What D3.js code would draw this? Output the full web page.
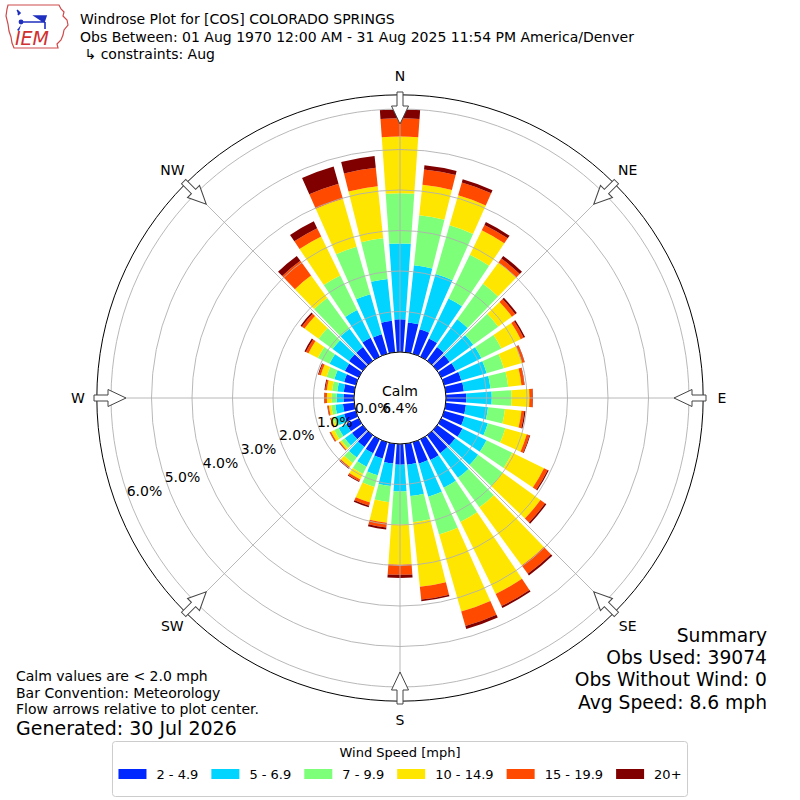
<!DOCTYPE html>
<html>
<head>
<meta charset="utf-8">
<style>
  body { margin: 0; background: #fff; }
  text { font-family: "DejaVu Sans", sans-serif; fill: #000; }
</style>
</head>
<body>
<svg id="chart" width="800" height="800"></svg>
<script src="https://cdn.jsdelivr.net/npm/d3@7"></script>
<script>
// direction the wind blows from, degrees
const directions = [0,10,20,30,40,50,60,70,80,90,100,110,120,130,140,150,160,170,
                    180,190,200,210,220,230,240,250,260,270,280,290,300,310,320,330,340,350];
const speedBins = ["2 - 4.9", "5 - 6.9", "7 - 9.9", "10 - 14.9", "15 - 19.9", "20+"];
const binColors = ["#0028ff", "#00d4ff", "#7dff7a", "#ffe600", "#ff4a00", "#800000"];

// percent of observations per direction, one array per speed bin
const pct2to5   = [0.81,0.74,0.63,0.50,0.42,0.38,0.40,0.44,0.45,0.50,0.50,0.52,0.58,0.55,0.55,0.57,0.55,0.52,
                   0.51,0.49,0.42,0.38,0.36,0.33,0.33,0.30,0.28,0.26,0.26,0.30,0.38,0.42,0.42,0.52,0.50,0.78];
const pct5to7   = [1.87,1.42,1.42,1.10,0.85,0.72,0.70,0.65,0.66,0.63,0.55,0.60,0.66,0.70,0.75,0.76,0.85,0.78,
                   0.66,0.56,0.43,0.37,0.32,0.22,0.22,0.20,0.19,0.17,0.16,0.25,0.42,0.50,0.56,0.76,1.03,1.04];
const pct7to10  = [1.24,1.24,1.25,1.20,1.08,0.76,0.55,0.44,0.44,0.49,0.42,0.45,0.71,0.75,0.90,0.94,0.97,0.65,
                   0.82,0.40,0.30,0.20,0.17,0.10,0.12,0.08,0.10,0.12,0.13,0.20,0.32,0.43,0.94,0.95,1.22,1.01];
const pct10to15 = [1.40,0.76,0.77,0.67,0.65,0.42,0.53,0.47,0.33,0.44,0.41,0.55,0.87,1.15,1.78,1.98,1.98,1.60,
                   0.99,0.51,0.40,0.15,0.12,0.05,0.09,0.05,0.06,0.12,0.13,0.15,0.26,0.43,0.68,1.07,1.23,1.29];
const pct15to20 = [0.45,0.38,0.33,0.15,0.12,0.10,0.08,0.06,0.07,0.08,0.07,0.07,0.10,0.14,0.25,0.33,0.37,0.32,
                   0.25,0.12,0.08,0.05,0.03,0.02,0.03,0.02,0.03,0.06,0.04,0.05,0.07,0.08,0.45,0.23,0.39,0.46];
const pct20up   = [0.22,0.10,0.08,0.08,0.08,0.05,0.04,0.01,0.01,0.01,0.03,0.02,0.03,0.04,0.05,0.05,0.08,0.04,
                   0.08,0.05,0.04,0.02,0.02,0.01,0.01,0.01,0.01,0.01,0.02,0.02,0.04,0.04,0.15,0.19,0.44,0.29];

const radialTicks = [0, 1, 2, 3, 4, 5, 6];
const compassNames = ["N", "NE", "E", "SE", "S", "SW", "W", "NW"];
const compassAngles = [0, 45, 90, 135, 180, 225, 270, 315];
const calmPct = 6.4;

const titleLines = ["Windrose Plot for [COS] COLORADO SPRINGS",
                    "Obs Between: 01 Aug 1970 12:00 AM - 31 Aug 2025 11:54 PM America/Denver",
                    " \u21b3 constraints: Aug"];
const noteLines = ["Calm values are < 2.0 mph", "Bar Convention: Meteorology",
                   "Flow arrows relative to plot center."];
const generatedText = "Generated: 30 Jul 2026";
const summaryLines = ["Summary", "Obs Used: 39074", "Obs Without Wind: 0", "Avg Speed: 8.6 mph"];

const svg = d3.select("#chart");
const cx = 400, cy = 398;

const r = d3.scaleLinear().domain([0, 6]).range([46, 289]);
const rMax = r(6.35);
const ang = d3.scaleLinear().domain([0, 360]).range([0, 2 * Math.PI]);

const keys = ["b0", "b1", "b2", "b3", "b4", "b5"];
const bins = [pct2to5, pct5to7, pct7to10, pct10to15, pct15to20, pct20up];
const rows = directions.map((d, i) => {
  const row = {dir: d};
  keys.forEach((k, j) => row[k] = bins[j][i]);
  return row;
});
const stacked = d3.stack().keys(keys)(rows);

const plot = svg.append("g").attr("transform", `translate(${cx},${cy})`);

// bars
const arc = d3.arc();
plot.selectAll("g.layer")
  .data(stacked)
  .join("g")
    .attr("class", "layer")
    .attr("fill", (d, i) => binColors[i])
  .selectAll("path")
  .data(d => d)
  .join("path")
    .attr("d", d => arc({
      innerRadius: r(d[0]), outerRadius: r(d[1]),
      startAngle: ang(d.data.dir - 4), endAngle: ang(d.data.dir + 4)
    }));

// grid on top of bars
plot.selectAll("circle.grid")
  .data(radialTicks)
  .join("circle")
    .attr("class", "grid")
    .attr("r", d => r(d))
    .attr("fill", "none")
    .attr("stroke", "#b0b0b0")
    .attr("stroke-width", 0.9);

plot.selectAll("line.spoke")
  .data(compassAngles)
  .join("line")
    .attr("class", "spoke")
    .attr("x1", d => r(0) * Math.sin(ang(d)))
    .attr("y1", d => -r(0) * Math.cos(ang(d)))
    .attr("x2", d => rMax * Math.sin(ang(d)))
    .attr("y2", d => -rMax * Math.cos(ang(d)))
    .attr("stroke", "#b0b0b0")
    .attr("stroke-width", 0.9);

plot.append("circle")
  .attr("r", rMax)
  .attr("fill", "none")
  .attr("stroke", "#000")
  .attr("stroke-width", 1);

// calm circle
plot.append("circle")
  .attr("r", r(0))
  .attr("fill", "#fff")
  .attr("stroke", "#000")
  .attr("stroke-width", 1);
plot.append("text")
  .attr("y", -7)
  .attr("text-anchor", "middle")
  .attr("dominant-baseline", "central")
  .attr("font-size", 14)
  .text("Calm");
plot.append("text")
  .attr("y", 10)
  .attr("text-anchor", "middle")
  .attr("dominant-baseline", "central")
  .attr("font-size", 14)
  .text(calmPct.toFixed(1) + "%");

// radial tick labels
const labelAngle = 250;
plot.selectAll("text.rlabel")
  .data(radialTicks)
  .join("text")
    .attr("class", "rlabel")
    .attr("x", d => r(d) * Math.sin(ang(labelAngle)) + 16)
    .attr("y", d => -r(d) * Math.cos(ang(labelAngle)) - 6)
    .attr("text-anchor", "middle")
    .attr("dominant-baseline", "central")
    .attr("font-size", 14)
    .text(d => d.toFixed(1) + "%");

// flow arrows pointing at center
plot.selectAll("polygon.arrow")
  .data(compassAngles)
  .join("polygon")
    .attr("class", "arrow")
    .attr("points", "-3,-306 3,-306 3,-292 8.5,-292 0,-274 -8.5,-292 -3,-292")
    .attr("transform", d => `rotate(${d})`)
    .attr("fill", "#fff")
    .attr("stroke", "#444")
    .attr("stroke-width", 1);

// compass labels
plot.selectAll("text.compass")
  .data(compassAngles)
  .join("text")
    .attr("class", "compass")
    .attr("x", d => 322 * Math.sin(ang(d)))
    .attr("y", d => -322 * Math.cos(ang(d)))
    .attr("text-anchor", "middle")
    .attr("dominant-baseline", "central")
    .attr("font-size", 14)
    .text((d, i) => compassNames[i]);

// title
svg.selectAll("text.title")
  .data(titleLines)
  .join("text")
    .attr("class", "title")
    .attr("x", 80)
    .attr("y", (d, i) => 24 + i * 17.5)
    .attr("font-size", 14)
    .attr("xml:space", "preserve")
    .style("white-space", "pre")
    .text(d => d);

// IEM logo
const logo = svg.append("g").attr("transform", "translate(5,4)");
logo.append("path")
  .attr("d", "M3,1 L54,1 L56,5 L59,8 L58,12 L62,16 L63,21 L59,26 L58,31 L56,36 L52,40 L53,44 L9,44 L7,39 L6,33 L4,27 L3,20 L1,12 L2,5 Z")
  .attr("fill", "#fff")
  .attr("stroke", "#cf4a4a")
  .attr("stroke-width", 1.2);
logo.append("circle").attr("cx", 16).attr("cy", 18).attr("r", 2.4).attr("fill", "#1f2fbf");
logo.append("path").attr("d", "M16,18 L40,18 M40,18 L40,25 M30,12 L41,12 L39,18 Z M12,6 L15,9 L13,11")
  .attr("stroke", "#1f2fbf").attr("stroke-width", 1.6).attr("fill", "#1f2fbf");
logo.append("path").attr("d", "M12,26 L16,21 L14,27 Z").attr("fill", "#1f2fbf");
logo.append("text")
  .attr("x", 10).attr("y", 41)
  .attr("font-family", "Liberation Serif, serif")
  .attr("font-style", "italic")
  .attr("font-size", 19)
  .style("fill", "#cf3030")
  .text("IEM");

// notes bottom left
svg.selectAll("text.note")
  .data(noteLines)
  .join("text")
    .attr("class", "note")
    .attr("x", 16)
    .attr("y", (d, i) => 681 + i * 16.5)
    .attr("font-size", 14)
    .text(d => d);
svg.append("text")
  .attr("x", 16).attr("y", 735)
  .attr("font-size", 19)
  .text(generatedText);

// summary bottom right
svg.selectAll("text.summary")
  .data(summaryLines)
  .join("text")
    .attr("class", "summary")
    .attr("x", 767)
    .attr("y", (d, i) => 642 + i * 22.2)
    .attr("text-anchor", "end")
    .attr("font-size", 18.7)
    .text(d => d);

// legend
const legend = svg.append("g");
const box = legend.append("rect")
  .attr("y", 741.5).attr("height", 55)
  .attr("rx", 3)
  .attr("fill", "#fff")
  .attr("stroke", "#cccccc");
legend.append("text")
  .attr("x", 400).attr("y", 757)
  .attr("text-anchor", "middle")
  .attr("font-size", 13)
  .text("Wind Speed [mph]");
const items = legend.append("g");
let xpos = 0;
speedBins.forEach((label, i) => {
  items.append("rect")
    .attr("x", xpos).attr("y", 769)
    .attr("width", 28).attr("height", 10)
    .attr("fill", binColors[i]);
  const t = items.append("text")
    .attr("x", xpos + 38).attr("y", 779)
    .attr("font-size", 13)
    .text(label);
  xpos += 38 + t.node().getComputedTextLength() + 13;
});
const itemsWidth = xpos - 13;
items.attr("transform", `translate(${400 - itemsWidth / 2},0)`);
box.attr("x", 400 - itemsWidth / 2 - 6).attr("width", itemsWidth + 12);
</script>
</body>
</html>
